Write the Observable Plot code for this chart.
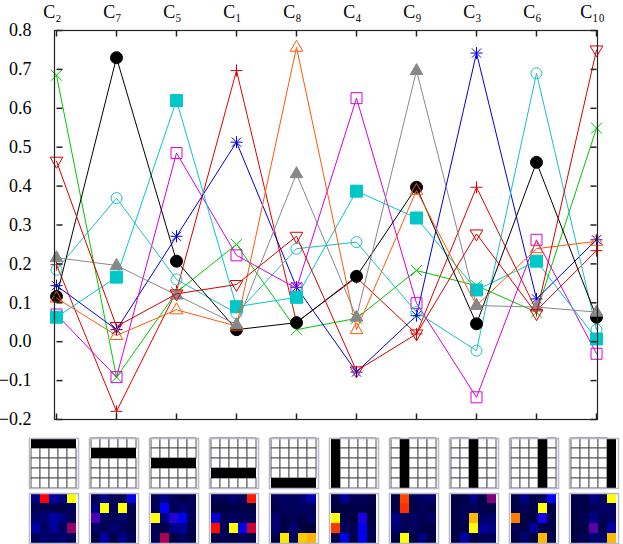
<!DOCTYPE html>
<html><head><meta charset="utf-8">
<script src="https://cdn.jsdelivr.net/npm/d3@7"></script>
<script src="https://cdn.jsdelivr.net/npm/@observablehq/plot@0.6"></script>
<style>
body{margin:0;background:#fff;}
#chart{width:623px;}
#chart svg{display:block;}
</style></head><body><div id="chart"></div>
<script>
// ---- data ----
const categories = ["C2","C7","C5","C1","C8","C4","C9","C3","C6","C10"];
const categoryLabels = ["C₂","C₇","C₅","C₁","C₈","C₄","C₉","C₃","C₆","C₁₀"];
const yTicks = [-0.2,-0.1,0.0,0.1,0.2,0.3,0.4,0.5,0.6,0.7,0.8];

const redPlus          = [0.198,-0.179,0.130,0.697,0.050,0.165,0.020,0.397,0.080,0.234];
const greenCross       = [0.685,-0.091,0.127,0.250,0.031,0.060,0.183,0.144,0.076,0.549];
const blueAsterisk     = [0.144,0.031,0.271,0.513,0.140,-0.078,0.067,0.742,0.110,0.262];
const magentaSquare    = [0.070,-0.091,0.485,0.222,0.137,0.626,0.099,-0.143,0.262,-0.031];
const cyanFilledSquare = [0.063,0.166,0.620,0.090,0.114,0.387,0.318,0.133,0.207,0.007];
const cyanCircle       = [0.185,0.369,0.160,0.073,0.239,0.256,0.076,-0.023,0.690,0.031];
const blackCircle      = [0.116,0.730,0.207,0.031,0.049,0.168,0.397,0.046,0.461,0.063];
const orangeTriangle   = [0.112,0.016,0.082,0.040,0.757,0.031,0.389,0.093,0.239,0.258];
const grayTriangle     = [0.216,0.196,0.120,0.044,0.432,0.063,0.697,0.093,0.089,0.076];
const redNabla         = [0.464,0.039,0.123,0.147,0.271,-0.075,0.020,0.277,0.072,0.750];

// pattern shown under each category: a black row or a black column in a 5x5 grid
const patternAxis  = ["row","row","row","row","row","col","col","col","col","col"];
const patternIndex = [0,1,2,3,4,0,1,2,3,4];

// 5x5 heat maps (rows top to bottom)
const heatC2 = [[0.15,0.67,0.2,0.15,1],[0.08,0.08,0.06,0.06,0.08],[0.12,0.12,0.2,0.15,0.08],[0.2,0.1,0.18,0.1,0.53],[0.08,0.12,0.1,0.12,0.08]];
const heatC7 = [[0.08,0.15,0.08,0.08,0.3],[0.15,1,0.08,1,0.08],[0.43,0.1,0.08,0.12,0.06],[0.1,0.08,0.12,0.08,0.06],[0.06,0.2,0.06,0.15,0.08]];
const heatC5 = [[0.08,0.15,0.08,0.06,0.08],[0.08,0.32,0.08,0.12,0.08],[1,0.15,0.38,0.3,0.08],[0.08,0.06,0.15,0.18,0.06],[0.08,0.56,0.06,0.1,0.06]];
const heatC1 = [[0.08,0.08,0.12,0.08,0.7],[0.05,0.05,0.06,0.06,0.05],[0.27,0.08,0.1,0.08,0.08],[0.68,0.08,1,0.3,0.6],[0.06,0.08,0.06,0.08,0.06]];
const heatC8 = [[0.08,0.1,0.08,0.12,0.22],[0.06,0.1,0.08,0.1,0.08],[0.12,0.06,0.08,0.06,0.1],[0.12,0.06,0.12,0.04,0.04],[0.06,0.97,0.08,0.93,0.9]];
const heatC4 = [[0.06,0.18,0.08,0.08,0.06],[0.05,0.05,0.06,0.06,0.05],[1,0.06,0.05,0.37,0.05],[0.74,0.08,0.08,0.3,0.06],[0.06,0.3,0.06,0.3,0.06]];
const heatC9 = [[0.06,0.76,0.08,0.1,0.12],[0.06,0.73,0.06,0.08,0.06],[0.15,0.08,0.1,0.08,0.1],[0.12,0.08,0.1,0.06,0.06],[0.06,1,0.06,0.15,0.06]];
const heatC3 = [[0.06,0.06,0.15,0.06,0.5],[0.06,0.08,0.08,0.06,0.06],[0.06,0.08,0.91,0.1,0.12],[0.06,0.06,1,0.18,0.15],[0.06,0.2,0.06,0.08,0.08]];
const heatC6 = [[0.06,0.15,0.06,0.08,0.33],[0.06,0.08,0.06,1,0.06],[0.83,0.06,0.06,0.36,0.06],[0.08,0.06,0.18,0.06,0.06],[0.06,0.12,0.05,0.91,0.06]];
const heatC10 = [[0.06,0.06,0.15,0.08,1],[0.06,0.06,0.08,0.1,0.1],[0.06,0.08,0.15,0.08,0.1],[0.05,0.06,0.45,0.06,0.2],[0.06,0.08,0.12,0.12,0.91]];
const heatmaps = [heatC2,heatC7,heatC5,heatC1,heatC8,heatC4,heatC9,heatC3,heatC6,heatC10];

// ---- marker symbols (gnuplot-like) ----
const sym = f => ({draw(ctx){ f(ctx); }});
const plusS = sym(c=>{c.moveTo(-6,0);c.lineTo(6,0);c.moveTo(0,-6);c.lineTo(0,6);});
const crossS = sym(c=>{const h=5.5;c.moveTo(-h,-h);c.lineTo(h,h);c.moveTo(-h,h);c.lineTo(h,-h);});
const asteriskS = sym(c=>{const h=4.6;c.moveTo(-6,0);c.lineTo(6,0);c.moveTo(0,-6);c.lineTo(0,6);c.moveTo(-h,-h);c.lineTo(h,h);c.moveTo(-h,h);c.lineTo(h,-h);});
const squareS = sym(c=>{const h=5.5;c.moveTo(-h,-h);c.lineTo(h,-h);c.lineTo(h,h);c.lineTo(-h,h);c.closePath();});
const fsquareS = sym(c=>{const h=6;c.moveTo(-h,-h);c.lineTo(h,-h);c.lineTo(h,h);c.lineTo(-h,h);c.closePath();});
const circleS = sym(c=>{c.moveTo(5.5,0);c.arc(0,0,5.5,0,2*Math.PI);c.closePath();});
const fcircleS = sym(c=>{c.moveTo(6,0);c.arc(0,0,6,0,2*Math.PI);c.closePath();});
const triUpS = sym(c=>{c.moveTo(0,-7);c.lineTo(6.3,4);c.lineTo(-6.3,4);c.closePath();});
const triDownS = sym(c=>{c.moveTo(0,7);c.lineTo(6.3,-4);c.lineTo(-6.3,-4);c.closePath();});
const tickRight = sym(c=>{c.moveTo(0,0);c.lineTo(6,0);});
const tickLeft = sym(c=>{c.moveTo(0,0);c.lineTo(-6,0);});
const tickDown = sym(c=>{c.moveTo(0,0);c.lineTo(0,6);});
const tickUp = sym(c=>{c.moveTo(0,0);c.lineTo(0,-6);});

const series = [
  {values: redPlus, color: "#e00000", symbol: plusS, filled: false},
  {values: greenCross, color: "#00c800", symbol: crossS, filled: false},
  {values: blueAsterisk, color: "#0000e0", symbol: asteriskS, filled: false},
  {values: magentaSquare, color: "#d800d8", symbol: squareS, filled: false},
  {values: cyanFilledSquare, color: "#00c8c8", symbol: fsquareS, filled: true},
  {values: cyanCircle, color: "#1ebebe", symbol: circleS, filled: false},
  {values: blackCircle, color: "#000000", symbol: fcircleS, filled: true},
  {values: orangeTriangle, color: "#ff5a0a", symbol: triUpS, filled: false},
  {values: grayTriangle, color: "#888888", symbol: triUpS, filled: true},
  {values: redNabla, color: "#d40000", symbol: triDownS, filled: false}
];

const chart = document.getElementById("chart");
const first = categories[0], last = categories[categories.length - 1];
const yMin = yTicks[0], yMax = yTicks[yTicks.length - 1];

const marks = [];
for (const s of series) {
  const data = categories.map((cat, i) => ({cat, v: s.values[i]}));
  marks.push(Plot.line(data, {x: "cat", y: "v", stroke: s.color, strokeWidth: 1}));
  marks.push(Plot.dot(data, {x: "cat", y: "v", symbol: s.symbol, stroke: s.color, fill: s.filled ? s.color : "none", strokeWidth: 1}));
}
marks.push(Plot.dot(yTicks, {x: () => first, y: d => d, symbol: tickRight, stroke: "#222", fill: "none"}));
marks.push(Plot.dot(yTicks, {x: () => last, y: d => d, symbol: tickLeft, stroke: "#222", fill: "none"}));
marks.push(Plot.dot(categories, {x: d => d, y: () => yMax, symbol: tickDown, stroke: "#222", fill: "none"}));
marks.push(Plot.dot(categories, {x: d => d, y: () => yMin, symbol: tickUp, stroke: "#222", fill: "none"}));
marks.push(Plot.frame({stroke: "#222", strokeWidth: 1.2}));

const main = Plot.plot({
  width: 623, height: 430,
  marginLeft: 54, marginRight: 26, marginTop: 30, marginBottom: 11,
  style: {fontFamily: "'Liberation Serif', 'DejaVu Serif', serif", fontSize: "18px", background: "white", color: "black"},
  x: {type: "point", domain: categories, padding: 0, axis: "top", tickSize: 0, tickPadding: 13,
      tickFormat: d => categoryLabels[categories.indexOf(d)], label: null},
  y: {domain: [yMin, yMax], ticks: yTicks, tickSize: 0, tickPadding: 23, tickFormat: d3.format(".1f"), label: null},
  marks
});
chart.appendChild(main);
main.querySelectorAll('[aria-label="x-axis"] text, [aria-label="x-axis tick label"] text').forEach(t => t.setAttribute("dx", "-4"));

// ---- pattern and heat-map grids ----
const cells = [];
categories.forEach((cat, i) => {
  for (let r = 0; r < 5; r++) for (let c = 0; c < 5; c++) {
    const black = patternAxis[i] === "row" ? r === patternIndex[i] : c === patternIndex[i];
    cells.push({cat, kind: "pat", r, c, black});
  }
  for (let r = 0; r < 5; r++) for (let c = 0; c < 5; c++) {
    cells.push({cat, kind: "heat", r, c, v: heatmaps[i][r][c]});
  }
});
const idx = [0,1,2,3,4];
const grids = Plot.plot({
  width: 623, height: 114,
  marginLeft: 25, marginRight: 0, marginTop: 8, marginBottom: 0,
  style: {background: "white"},
  facet: {data: cells, x: "cat", y: "kind", marginTop: 0, marginRight: 0, marginBottom: 0, marginLeft: 0},
  fx: {domain: categories, paddingInner: 0.18, paddingOuter: 0, axis: null, label: null},
  fy: {domain: ["pat","heat"], paddingInner: 0.09, paddingOuter: 0, axis: null, label: null},
  x: {type: "band", domain: idx, padding: 0, axis: null},
  y: {type: "band", domain: idx, padding: 0, axis: null},
  color: {type: "linear", domain: [0, 1/3, 2/3, 1], range: ["#000020","#0000ff","#ff0000","#ffff00"], interpolate: "rgb", clamp: true},
  marks: [
    Plot.cell(cells, {filter: d => d.kind === "heat", x: "c", y: "r", fill: "v", inset: 0}),
    Plot.cell(cells, {filter: d => d.kind === "pat" && !d.black, x: "c", y: "r", fill: "white", stroke: "#555", strokeWidth: 1, inset: 0}),
    Plot.cell(cells, {filter: d => d.kind === "pat" && d.black, x: "c", y: "r", fill: "black", inset: 0}),
    Plot.frame({stroke: "#b8b8c6", strokeWidth: 1.5})
  ]
});
chart.appendChild(grids);
</script>
</body></html>
